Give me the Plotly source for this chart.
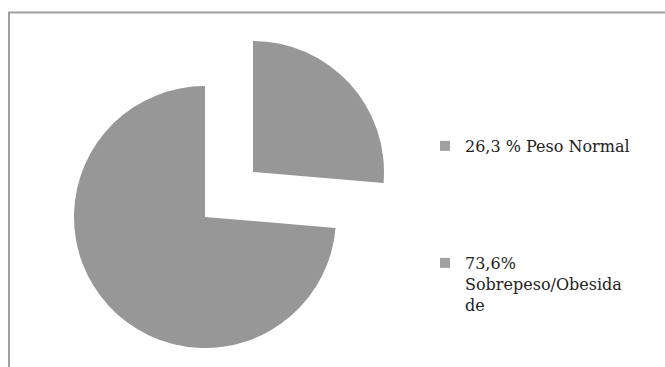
import plotly.graph_objects as go

# ---- data ----
labels = ["26,3 % Peso Normal", "73,6% Sobrepeso/Obesidade"]
legend_labels = ["26,3 % Peso Normal", "73,6%<br>Sobrepeso/Obesida<br>de"]
values = [26.3, 73.6]
exploded = [True, False]

W, H = 665, 367
GRAY = "#979797"
CLEAR = "rgba(0,0,0,0)"


def px_dom_x(a, b):
    return [a / W, b / W]


def px_dom_y(top, bottom):
    return [1 - bottom / H, 1 - top / H]


fig = go.Figure()

# main pie (non-exploded slices)
fig.add_trace(go.Pie(
    labels=labels, values=values, sort=False, direction="clockwise", rotation=0,
    marker=dict(colors=[CLEAR if e else GRAY for e in exploded], line=dict(width=0)),
    textinfo="none", hoverinfo="label+value", showlegend=False,
    domain=dict(x=px_dom_x(74, 336), y=px_dom_y(86, 348)),
))
# exploded slice drawn at offset position
fig.add_trace(go.Pie(
    labels=labels, values=values, sort=False, direction="clockwise", rotation=0,
    marker=dict(colors=[GRAY if e else CLEAR for e in exploded], line=dict(width=0)),
    textinfo="none", hoverinfo="label+value", showlegend=False,
    domain=dict(x=px_dom_x(122, 384), y=px_dom_y(41, 303)),
))

# legend entries
for i, name in enumerate(legend_labels):
    fig.add_trace(go.Scatter(
        x=[None], y=[None], mode="markers", name=name,
        marker=dict(symbol="square", size=10, color="#a0a0a0"),
        legend="legend" if i == 0 else "legend2",
    ))

font = dict(family="DejaVu Serif", size=16, color="#222222")
fig.update_layout(
    width=W, height=H,
    margin=dict(l=0, r=0, t=0, b=0),
    paper_bgcolor="white", plot_bgcolor="white",
    xaxis=dict(visible=False), yaxis=dict(visible=False),
    legend=dict(x=425 / W, y=1 - 146 / H, xanchor="left", yanchor="middle",
                font=font, bgcolor="rgba(0,0,0,0)", valign="top"),
    legend2=dict(x=425 / W, y=1 - 246 / H, xanchor="left", yanchor="top",
                 font=font, bgcolor="rgba(0,0,0,0)", valign="top"),
    shapes=[dict(type="rect", xref="paper", yref="paper",
                 x0=9 / W, x1=1.05, y0=-0.05, y1=1 - 12.5 / H,
                 line=dict(color="#a0a0a0", width=2))],
)

fig.write_html("out.html")
